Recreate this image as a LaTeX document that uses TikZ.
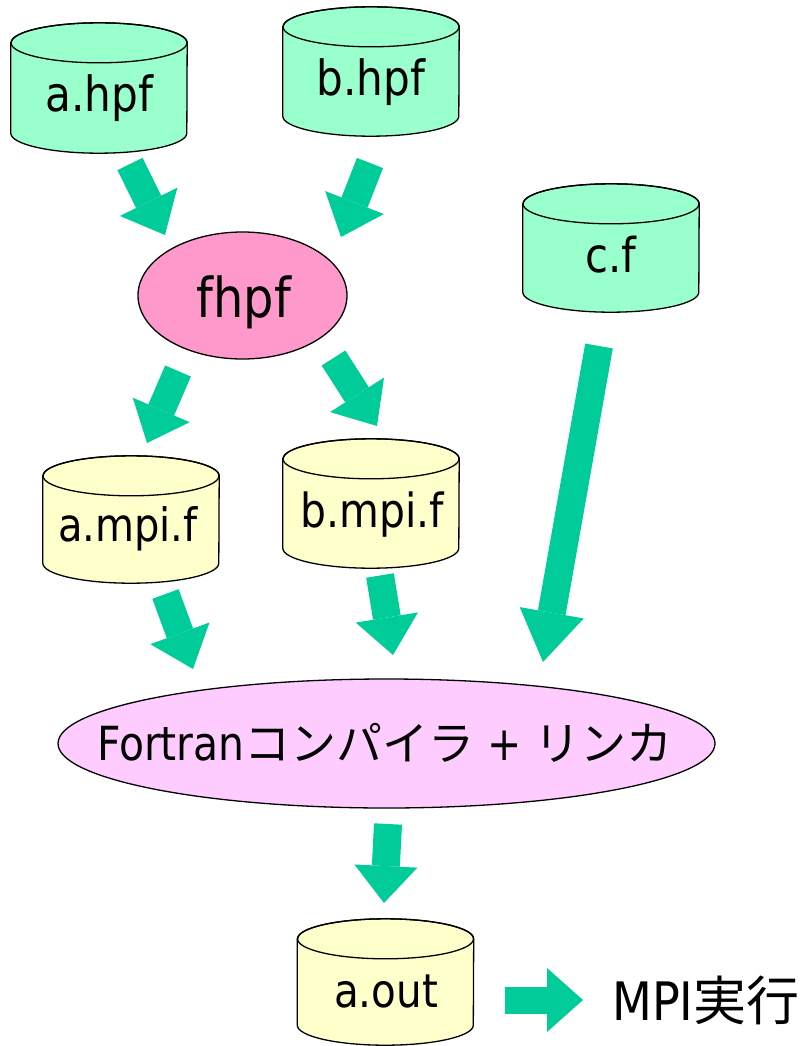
\documentclass[tikz,border=0pt]{standalone}
\usepackage{fontspec}
\setmainfont{DejaVu Sans}[FakeStretch=0.87]
\newfontfamily\jp{Noto Sans CJK JP}
\usetikzlibrary{shapes.geometric,arrows.meta}

\definecolor{srcgreen}{HTML}{99FFCC}
\definecolor{flowgreen}{HTML}{00CC99}
\definecolor{genyellow}{HTML}{FFFFCC}
\definecolor{toolpink}{HTML}{FF99CC}
\definecolor{linkpink}{HTML}{FFCCFF}

% a drum (file) symbol: name, centre x, top rim y, bottom rim y, fill
\newcommand\drum[5]{%
  \node[minimum width=176pt, inner sep=0pt, minimum height={(#4-#3)*1pt}] (#1) at (#2,{(#3+#4)/2}) {};
  \filldraw[fill=#5, outline] (#1.north west) -- (#1.south west)
    arc[start angle=180, end angle=360, x radius=88pt, y radius=20pt]
    -- (#1.north east)
    arc[start angle=0, end angle=180, x radius=88pt, y radius=20pt] -- cycle;
  \draw[outline] (#1.north) ellipse[x radius=88pt, y radius=20pt];
}
\newcommand\fs[1]{\fontsize{#1pt}{#1pt}\selectfont}

\tikzset{
  outline/.style={draw=black, line width=1.3pt},
  lbl/.style={anchor=base, inner sep=0pt, font=\fs{48}},
  flow/.style={draw=flowgreen, line width=28pt},
  head/.style 2 args={-{Triangle[line width=0pt, length=#1pt, width=#2pt]}},
}

\begin{document}
\begin{tikzpicture}[x=1pt, y=-1pt]
  \useasboundingbox (0,0) rectangle (808,1046);

  % source files
  \drum{ahpf}{99}{43}{133}{srcgreen}
  \drum{bhpf}{371}{27}{116}{srcgreen}
  \drum{cf}{611}{204}{292}{srcgreen}
  \node[lbl, font=\fs{48.5}] (ahpf-l) at (99,112) {a.hpf};
  \node[lbl, font=\fs{48.5}] (bhpf-l) at (371,96) {b.hpf};
  \node[lbl] (cf-l) at (611,272) {c.f};

  % translator
  \node[ellipse, outline, fill=toolpink, minimum width=209pt, minimum height=127pt, inner sep=0pt] (fhpf) at (242.5,295.5) {};
  \node[lbl, font=\fs{55}] (fhpf-l) at (244,317) {fhpf};

  % generated files
  \drum{ampi}{131}{476}{563}{genyellow}
  \drum{bmpi}{371}{459}{548}{genyellow}
  \node[lbl, font=\fs{46}] (ampi-l) at (128,541) {a.mpi.f};
  \node[lbl, font=\fs{47}] (bmpi-l) at (372,527) {b.mpi.f};

  % compiler and linker
  \node[ellipse, outline, fill=linkpink, minimum width=657pt, minimum height=129pt, inner sep=0pt] (comp) at (386.5,743.5) {};
  \node[lbl, font=\fs{47}] (comp-l) at (385,760) {Fortran{\jp\fs{46}コンパイラ} + {\jp\fs{46}リンカ}};

  % executable
  \drum{aout}{385.5}{939}{1025}{genyellow}
  \node[lbl, font=\fs{46.5}] (aout-l) at (386,1007) {a.out};
  \node[lbl, anchor=base west, font=\fs{53}] (run) at (612,1020) {MPI{\jp 実行}};

  % flow arrow end points
  \coordinate (a1t) at (130,164);   \coordinate (a1h) at (165,235);
  \coordinate (a2t) at (370,163);   \coordinate (a2h) at (341,237);
  \coordinate (a3t) at (178,371);   \coordinate (a3h) at (147,443);
  \coordinate (a4t) at (333.5,358); \coordinate (a4h) at (377,426);
  \coordinate (a5t) at (599,346);   \coordinate (a5h) at (543,662);
  \coordinate (a6t) at (165.5,594); \coordinate (a6h) at (193,669);
  \coordinate (a7t) at (380,575.5); \coordinate (a7h) at (393,655);
  \coordinate (a8t) at (388,824);   \coordinate (a8h) at (384,903);
  \coordinate (a9t) at (505,1000);  \coordinate (a9h) at (583,1000);

  \draw[flow, head={37}{64}] (a1t) -- (a1h);
  \draw[flow, head={37}{63}] (a2t) -- (a2h);
  \draw[flow, head={36}{62}] (a3t) -- (a3h);
  \draw[flow, head={37}{64}] (a4t) -- (a4h);
  \draw[flow, head={50}{65}] (a5t) -- (a5h);
  \draw[flow, head={38}{63}] (a6t) -- (a6h);
  \draw[flow, head={38}{63}] (a7t) -- (a7h);
  \draw[flow, head={37}{63}] (a8t) -- (a8h);
  \draw[flow, line width=27pt, head={36}{64}] (a9t) -- (a9h);
\end{tikzpicture}
\end{document}
